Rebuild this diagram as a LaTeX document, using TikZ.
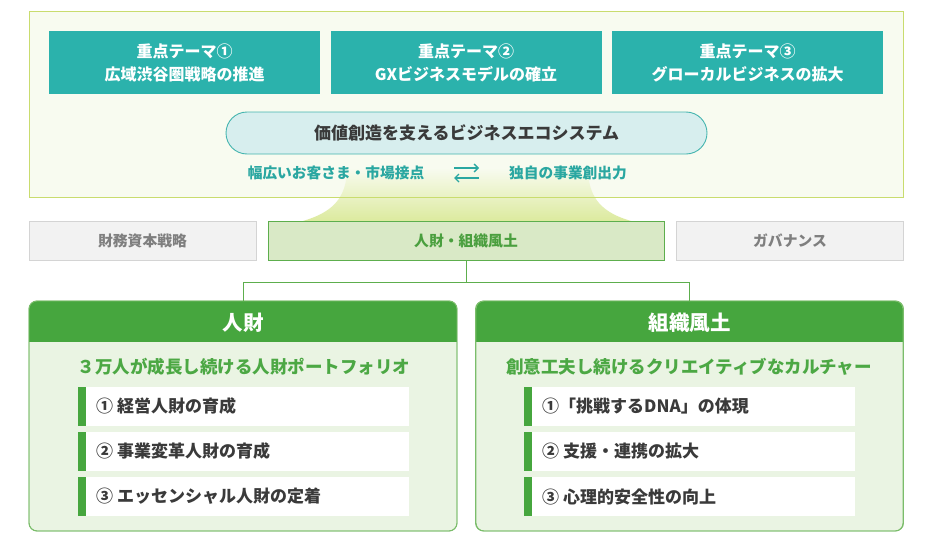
\documentclass[tikz,border=0pt]{standalone}
\usepackage{fontspec}
\setmainfont{Noto Sans CJK JP}
\usetikzlibrary{arrows.meta}
\definecolor{teal1}{HTML}{2BB2AC}
\definecolor{tealtxt}{HTML}{2AA7A1}
\definecolor{frameb}{HTML}{C9DC6E}
\definecolor{framef}{HTML}{F8FBF0}
\definecolor{pillf}{HTML}{D7EEEE}
\definecolor{pillb}{HTML}{45B5AF}
\definecolor{fanc}{HTML}{DCEA9E}
\definecolor{grayf}{HTML}{F2F2F2}
\definecolor{grayb}{HTML}{D4D4D4}
\definecolor{graytxt}{HTML}{7F7F7F}
\definecolor{midf}{HTML}{D9E9C6}
\definecolor{midb}{HTML}{5DAE4D}
\definecolor{midtxt}{HTML}{4A9F3E}
\definecolor{hdr}{HTML}{46A63E}
\definecolor{bodyf}{HTML}{EAF4E3}
\definecolor{bodyb}{HTML}{7BBD6B}
\definecolor{subtxt}{HTML}{4CA844}
\definecolor{itemtxt}{HTML}{3A3A3A}
\tikzset{
  themebox/.style={fill=teal1, text=white, font=\bfseries\fontsize{16}{23}\selectfont, align=center, minimum width=271pt, minimum height=63pt, inner sep=0pt, outer sep=0pt},
  graybox/.style={fill=grayf, draw=grayb, line width=0.8pt, text=graytxt, font=\bfseries\fontsize{14.8}{16}\selectfont, minimum width=227pt, minimum height=39pt, inner sep=0pt, outer sep=0pt},
  panel/.style={fill=bodyf, draw=bodyb, line width=0.9pt, rounded corners=8pt, minimum width=428pt, minimum height=230pt, inner sep=0pt, outer sep=0pt},
  hdrtext/.style={text=white, font=\bfseries\fontsize{20.5}{22}\selectfont},
  subtext/.style={text=subtxt, font=\bfseries\fontsize{17.5}{19}\selectfont},
  itembox/.style={fill=white, minimum width=331pt, minimum height=39pt, inner sep=0pt, outer sep=0pt},
  itemtext/.style={text=itemtxt, font=\bfseries\fontsize{17}{19}\selectfont, anchor=west, inner sep=0pt},
  bar/.style={fill=hdr},
  conn/.style={draw=midb, line width=0.9pt},
  tealtext/.style={text=tealtxt, font=\bfseries\fontsize{14.7}{16}\selectfont}
}
\begin{document}
\begin{tikzpicture}[x=1pt,y=-1pt]
\useasboundingbox[fill=white] (0,0) rectangle (933,543);
% top frame
\fill[framef] (29,12) rectangle (903,197);
% fan
\shade[top color=framef, bottom color=fanc]
  (347,168) .. controls (347,200) and (330,213) .. (303,221)
  -- (631,221) .. controls (604,213) and (588,200) .. (588,168) -- cycle;
\draw[frameb, line width=1pt] (29,12) rectangle (903,197);
% themes
\node[themebox] (t1) at (184.5,62.5) {重点テーマ①\\広域渋谷圏戦略の推進};
\node[themebox] (t2) at (466,62.5) {重点テーマ②\\GXビジネスモデルの確立};
\node[themebox] (t3) at (747.5,62.5) {重点テーマ③\\グローカルビジネスの拡大};
% pill
\node[fill=pillf, draw=pillb, line width=0.9pt, rounded corners=21pt, minimum width=481pt, minimum height=42pt, inner sep=0pt, text=itemtxt, font=\bfseries\fontsize{17}{19}\selectfont] (eco) at (466.5,133) {価値創造を支えるビジネスエコシステム};
\node[tealtext] (cust) at (336,173) {幅広いお客さま・市場接点};
\node[tealtext] (own) at (568,173) {独自の事業創出力};
\coordinate (a1s) at (454,168);
\coordinate (a1e) at (479,168);
\coordinate (a2s) at (479,178);
\coordinate (a2e) at (454,178);
\draw[draw=tealtxt, line width=1.4pt, -{Straight Barb[length=4pt,width=8pt]}] (a1s) -- (a1e);
\draw[draw=tealtxt, line width=1.4pt, -{Straight Barb[length=4pt,width=8pt]}] (a2s) -- (a2e);
% middle row
\node[graybox] (fin) at (142.5,240.5) {財務資本戦略};
\node[fill=midf, draw=midb, line width=0.9pt, text=midtxt, font=\bfseries\fontsize{14.8}{16}\selectfont, minimum width=396pt, minimum height=39pt, inner sep=0pt, outer sep=0pt] (hr) at (466,240.5) {人財・組織風土};
\node[graybox] (gov) at (790,240.5) {ガバナンス};
% panels
\node[panel] (pL) at (243,416) {};
\node[panel] (pR) at (689.5,416) {};
\begin{scope}
\clip[rounded corners=8pt] (29,301) rectangle (457,531);
\fill[hdr] (29,301) rectangle (457,342);
\end{scope}
\begin{scope}
\clip[rounded corners=8pt] (476,301) rectangle (903,531);
\fill[hdr] (476,301) rectangle (903,342);
\end{scope}
\draw[draw=bodyb, line width=0.9pt, rounded corners=8pt] (29,301) rectangle (457,531);
\draw[draw=bodyb, line width=0.9pt, rounded corners=8pt] (476,301) rectangle (903,531);
% connectors
\coordinate (jn) at (466,282);
\draw[conn] (hr.south) -- (jn);
\draw[conn] (jn) -| (pL.north);
\draw[conn] (jn) -| (pR.north);
% headers
\node[hdrtext] (hL) at (243,322.5) {人財};
\node[hdrtext] (hR) at (689.5,322.5) {組織風土};
\node[subtext] (sL) at (244,367) {３万人が成長し続ける人財ポートフォリオ};
\node[subtext] (sR) at (689,367) {創意工夫し続けるクリエイティブなカルチャー};
% left items
\node[itembox] (iL1) at (243.5,406.5) {};
\node[itembox] (iL2) at (243.5,451.5) {};
\node[itembox] (iL3) at (243.5,496.5) {};
\fill[bar] (78,387) rectangle (86,426);
\fill[bar] (78,432) rectangle (86,471);
\fill[bar] (78,477) rectangle (86,516);
\node[itemtext] (xL1) at (96,406.5) {① 経営人財の育成};
\node[itemtext] (xL2) at (96,451.5) {② 事業変革人財の育成};
\node[itemtext] (xL3) at (96,496.5) {③ エッセンシャル人財の定着};
% right items
\node[itembox] (iR1) at (689.5,406.5) {};
\node[itembox] (iR2) at (689.5,451.5) {};
\node[itembox] (iR3) at (689.5,496.5) {};
\fill[bar] (524,387) rectangle (532,426);
\fill[bar] (524,432) rectangle (532,471);
\fill[bar] (524,477) rectangle (532,516);
\node[itemtext] (xR1) at (542,406.5) {①「挑戦するDNA」の体現};
\node[itemtext] (xR2) at (542,451.5) {② 支援・連携の拡大};
\node[itemtext] (xR3) at (542,496.5) {③ 心理的安全性の向上};
\end{tikzpicture}
\end{document}
